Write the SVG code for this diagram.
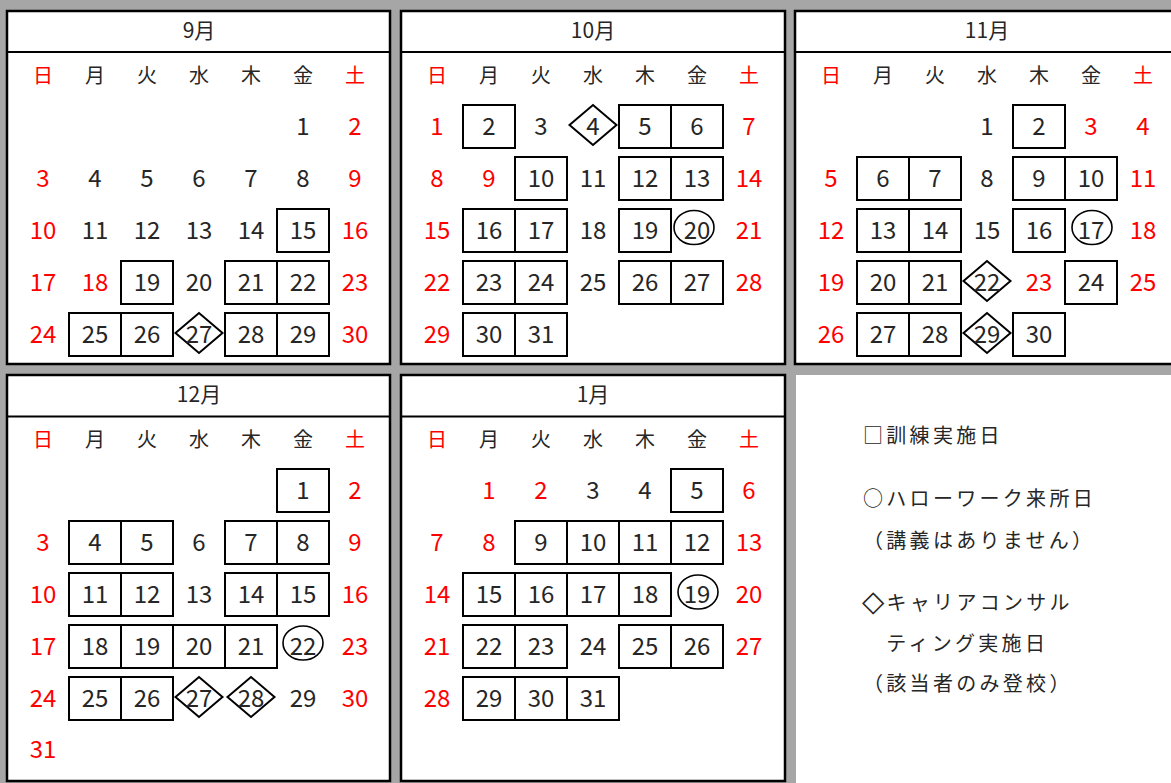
<svg xmlns="http://www.w3.org/2000/svg" width="1171" height="783" viewBox="0 0 1171 783">
<style>
.pn{fill:#fff;stroke:#000;stroke-width:2.5}
.hl{stroke:#000;stroke-width:2}
.bx{fill:none;stroke:#000;stroke-width:2}
.dm{fill:#fff;stroke:#000;stroke-width:2}
.el{fill:none;stroke:#000;stroke-width:1.6}
text{font-family:"Noto Sans CJK JP","Noto Sans",sans-serif;fill:#262626;text-anchor:middle}
.n{font-size:24px}
.w{font-size:20px}
.h{font-size:21px}
.r{fill:#ff0000}
.lg{font-size:20px;text-anchor:start;letter-spacing:3.3px}
.sym{font-family:"DejaVu Sans",sans-serif;fill:#262626;font-size:29px;letter-spacing:0}
</style>
<rect x="0" y="0" width="1171" height="783" fill="#a6a6a6"/>

<g id="sep">
<rect class="pn" x="7" y="11" width="383" height="353"/>
<line class="hl" x1="7" y1="52" x2="390" y2="52"/>
<text class="h" x="199" y="38">9月</text>
<g class="w"><text class="r" x="43" y="83">日</text><text x="95" y="83">月</text><text x="147" y="83">火</text><text x="199" y="83">水</text><text x="251" y="83">木</text><text x="303" y="83">金</text><text class="r" x="355" y="83">土</text></g>
<rect class="bx" x="277" y="209" width="52" height="43"/>
<rect class="bx" x="121" y="261" width="52" height="43"/>
<rect class="bx" x="225" y="261" width="52" height="43"/>
<rect class="bx" x="277" y="261" width="52" height="43"/>
<rect class="bx" x="69" y="313" width="52" height="43"/>
<rect class="bx" x="121" y="313" width="52" height="43"/>
<rect class="bx" x="225" y="313" width="52" height="43"/>
<rect class="bx" x="277" y="313" width="52" height="43"/>
<polygon class="dm" points="175.5,333 199,313 222.5,333 199,353"/>
<g class="n">
<text x="303" y="135">1</text><text class="r" x="355" y="135">2</text>
<text class="r" x="43" y="187">3</text><text x="95" y="187">4</text><text x="147" y="187">5</text><text x="199" y="187">6</text><text x="251" y="187">7</text><text x="303" y="187">8</text><text class="r" x="355" y="187">9</text>
<text class="r" x="43" y="239">10</text><text x="95" y="239">11</text><text x="147" y="239">12</text><text x="199" y="239">13</text><text x="251" y="239">14</text><text x="303" y="239">15</text><text class="r" x="355" y="239">16</text>
<text class="r" x="43" y="291">17</text><text class="r" x="95" y="291">18</text><text x="147" y="291">19</text><text x="199" y="291">20</text><text x="251" y="291">21</text><text x="303" y="291">22</text><text class="r" x="355" y="291">23</text>
<text class="r" x="43" y="343">24</text><text x="95" y="343">25</text><text x="147" y="343">26</text><text x="199" y="343">27</text><text x="251" y="343">28</text><text x="303" y="343">29</text><text class="r" x="355" y="343">30</text>
</g>
</g>

<g id="oct">
<rect class="pn" x="401" y="11" width="384" height="353"/>
<line class="hl" x1="401" y1="52" x2="785" y2="52"/>
<text class="h" x="593" y="38">10月</text>
<g class="w"><text class="r" x="437" y="83">日</text><text x="489" y="83">月</text><text x="541" y="83">火</text><text x="593" y="83">水</text><text x="645" y="83">木</text><text x="697" y="83">金</text><text class="r" x="749" y="83">土</text></g>
<rect class="bx" x="463" y="105" width="52" height="43"/>
<rect class="bx" x="619" y="105" width="52" height="43"/>
<rect class="bx" x="671" y="105" width="52" height="43"/>
<rect class="bx" x="515" y="157" width="52" height="43"/>
<rect class="bx" x="619" y="157" width="52" height="43"/>
<rect class="bx" x="671" y="157" width="52" height="43"/>
<rect class="bx" x="463" y="209" width="52" height="43"/>
<rect class="bx" x="515" y="209" width="52" height="43"/>
<rect class="bx" x="619" y="209" width="52" height="43"/>
<rect class="bx" x="463" y="261" width="52" height="43"/>
<rect class="bx" x="515" y="261" width="52" height="43"/>
<rect class="bx" x="619" y="261" width="52" height="43"/>
<rect class="bx" x="671" y="261" width="52" height="43"/>
<rect class="bx" x="463" y="313" width="52" height="43"/>
<rect class="bx" x="515" y="313" width="52" height="43"/>
<polygon class="dm" points="569.5,125 593,105 616.5,125 593,145"/>
<ellipse class="el" cx="694" cy="227.5" rx="20" ry="17"/>
<g class="n">
<text class="r" x="437" y="135">1</text><text x="489" y="135">2</text><text x="541" y="135">3</text><text x="593" y="135">4</text><text x="645" y="135">5</text><text x="697" y="135">6</text><text class="r" x="749" y="135">7</text>
<text class="r" x="437" y="187">8</text><text class="r" x="489" y="187">9</text><text x="541" y="187">10</text><text x="593" y="187">11</text><text x="645" y="187">12</text><text x="697" y="187">13</text><text class="r" x="749" y="187">14</text>
<text class="r" x="437" y="239">15</text><text x="489" y="239">16</text><text x="541" y="239">17</text><text x="593" y="239">18</text><text x="645" y="239">19</text><text x="697" y="239">20</text><text class="r" x="749" y="239">21</text>
<text class="r" x="437" y="291">22</text><text x="489" y="291">23</text><text x="541" y="291">24</text><text x="593" y="291">25</text><text x="645" y="291">26</text><text x="697" y="291">27</text><text class="r" x="749" y="291">28</text>
<text class="r" x="437" y="343">29</text><text x="489" y="343">30</text><text x="541" y="343">31</text>
</g>
</g>

<g id="nov">
<rect class="pn" x="795" y="11" width="400" height="353"/>
<line class="hl" x1="795" y1="52" x2="1171" y2="52"/>
<text class="h" x="987" y="38">11月</text>
<g class="w"><text class="r" x="831" y="83">日</text><text x="883" y="83">月</text><text x="935" y="83">火</text><text x="987" y="83">水</text><text x="1039" y="83">木</text><text x="1091" y="83">金</text><text class="r" x="1143" y="83">土</text></g>
<rect class="bx" x="1013" y="105" width="52" height="43"/>
<rect class="bx" x="857" y="157" width="52" height="43"/>
<rect class="bx" x="909" y="157" width="52" height="43"/>
<rect class="bx" x="1013" y="157" width="52" height="43"/>
<rect class="bx" x="1065" y="157" width="52" height="43"/>
<rect class="bx" x="857" y="209" width="52" height="43"/>
<rect class="bx" x="909" y="209" width="52" height="43"/>
<rect class="bx" x="1013" y="209" width="52" height="43"/>
<rect class="bx" x="857" y="261" width="52" height="43"/>
<rect class="bx" x="909" y="261" width="52" height="43"/>
<rect class="bx" x="1065" y="261" width="52" height="43"/>
<rect class="bx" x="857" y="313" width="52" height="43"/>
<rect class="bx" x="909" y="313" width="52" height="43"/>
<rect class="bx" x="1013" y="313" width="52" height="43"/>
<ellipse class="el" cx="1092" cy="227.5" rx="20" ry="17"/>
<polygon class="dm" points="963.5,281 987,261 1010.5,281 987,301"/>
<polygon class="dm" points="963.5,333 987,313 1010.5,333 987,353"/>
<g class="n">
<text x="987" y="135">1</text><text x="1039" y="135">2</text><text class="r" x="1091" y="135">3</text><text class="r" x="1143" y="135">4</text>
<text class="r" x="831" y="187">5</text><text x="883" y="187">6</text><text x="935" y="187">7</text><text x="987" y="187">8</text><text x="1039" y="187">9</text><text x="1091" y="187">10</text><text class="r" x="1143" y="187">11</text>
<text class="r" x="831" y="239">12</text><text x="883" y="239">13</text><text x="935" y="239">14</text><text x="987" y="239">15</text><text x="1039" y="239">16</text><text x="1091" y="239">17</text><text class="r" x="1143" y="239">18</text>
<text class="r" x="831" y="291">19</text><text x="883" y="291">20</text><text x="935" y="291">21</text><text x="987" y="291">22</text><text class="r" x="1039" y="291">23</text><text x="1091" y="291">24</text><text class="r" x="1143" y="291">25</text>
<text class="r" x="831" y="343">26</text><text x="883" y="343">27</text><text x="935" y="343">28</text><text x="987" y="343">29</text><text x="1039" y="343">30</text>
</g>
</g>

<g id="dec">
<rect class="pn" x="7" y="375" width="383" height="406"/>
<line class="hl" x1="7" y1="416.5" x2="390" y2="416.5"/>
<text class="h" x="199" y="402">12月</text>
<g class="w"><text class="r" x="43" y="447">日</text><text x="95" y="447">月</text><text x="147" y="447">火</text><text x="199" y="447">水</text><text x="251" y="447">木</text><text x="303" y="447">金</text><text class="r" x="355" y="447">土</text></g>
<rect class="bx" x="277" y="469" width="52" height="43"/>
<rect class="bx" x="69" y="521" width="52" height="43"/>
<rect class="bx" x="121" y="521" width="52" height="43"/>
<rect class="bx" x="225" y="521" width="52" height="43"/>
<rect class="bx" x="277" y="521" width="52" height="43"/>
<rect class="bx" x="69" y="573" width="52" height="43"/>
<rect class="bx" x="121" y="573" width="52" height="43"/>
<rect class="bx" x="225" y="573" width="52" height="43"/>
<rect class="bx" x="277" y="573" width="52" height="43"/>
<rect class="bx" x="69" y="625" width="52" height="43"/>
<rect class="bx" x="121" y="625" width="52" height="43"/>
<rect class="bx" x="173" y="625" width="52" height="43"/>
<rect class="bx" x="225" y="625" width="52" height="43"/>
<rect class="bx" x="69" y="677" width="52" height="43"/>
<rect class="bx" x="121" y="677" width="52" height="43"/>
<ellipse class="el" cx="303" cy="643" rx="20" ry="17"/>
<polygon class="dm" points="175.5,697 199,677 222.5,697 199,717"/>
<polygon class="dm" points="227.5,697 251,677 274.5,697 251,717"/>
<g class="n">
<text x="303" y="499">1</text><text class="r" x="355" y="499">2</text>
<text class="r" x="43" y="551">3</text><text x="95" y="551">4</text><text x="147" y="551">5</text><text x="199" y="551">6</text><text x="251" y="551">7</text><text x="303" y="551">8</text><text class="r" x="355" y="551">9</text>
<text class="r" x="43" y="603">10</text><text x="95" y="603">11</text><text x="147" y="603">12</text><text x="199" y="603">13</text><text x="251" y="603">14</text><text x="303" y="603">15</text><text class="r" x="355" y="603">16</text>
<text class="r" x="43" y="655">17</text><text x="95" y="655">18</text><text x="147" y="655">19</text><text x="199" y="655">20</text><text x="251" y="655">21</text><text x="303" y="655">22</text><text class="r" x="355" y="655">23</text>
<text class="r" x="43" y="707">24</text><text x="95" y="707">25</text><text x="147" y="707">26</text><text x="199" y="707">27</text><text x="251" y="707">28</text><text x="303" y="707">29</text><text class="r" x="355" y="707">30</text>
<text class="r" x="43" y="758">31</text>
</g>
</g>

<g id="jan">
<rect class="pn" x="401" y="375" width="384" height="406"/>
<line class="hl" x1="401" y1="416.5" x2="785" y2="416.5"/>
<text class="h" x="593" y="402">1月</text>
<g class="w"><text class="r" x="437" y="447">日</text><text x="489" y="447">月</text><text x="541" y="447">火</text><text x="593" y="447">水</text><text x="645" y="447">木</text><text x="697" y="447">金</text><text class="r" x="749" y="447">土</text></g>
<rect class="bx" x="671" y="469" width="52" height="43"/>
<rect class="bx" x="515" y="521" width="52" height="43"/>
<rect class="bx" x="567" y="521" width="52" height="43"/>
<rect class="bx" x="619" y="521" width="52" height="43"/>
<rect class="bx" x="671" y="521" width="52" height="43"/>
<rect class="bx" x="463" y="573" width="52" height="43"/>
<rect class="bx" x="515" y="573" width="52" height="43"/>
<rect class="bx" x="567" y="573" width="52" height="43"/>
<rect class="bx" x="619" y="573" width="52" height="43"/>
<rect class="bx" x="463" y="625" width="52" height="43"/>
<rect class="bx" x="515" y="625" width="52" height="43"/>
<rect class="bx" x="619" y="625" width="52" height="43"/>
<rect class="bx" x="671" y="625" width="52" height="43"/>
<rect class="bx" x="463" y="677" width="52" height="43"/>
<rect class="bx" x="515" y="677" width="52" height="43"/>
<rect class="bx" x="567" y="677" width="52" height="43"/>
<ellipse class="el" cx="698" cy="592" rx="20" ry="17"/>
<g class="n">
<text class="r" x="489" y="499">1</text><text class="r" x="541" y="499">2</text><text x="593" y="499">3</text><text x="645" y="499">4</text><text x="697" y="499">5</text><text class="r" x="749" y="499">6</text>
<text class="r" x="437" y="551">7</text><text class="r" x="489" y="551">8</text><text x="541" y="551">9</text><text x="593" y="551">10</text><text x="645" y="551">11</text><text x="697" y="551">12</text><text class="r" x="749" y="551">13</text>
<text class="r" x="437" y="603">14</text><text x="489" y="603">15</text><text x="541" y="603">16</text><text x="593" y="603">17</text><text x="645" y="603">18</text><text x="697" y="603">19</text><text class="r" x="749" y="603">20</text>
<text class="r" x="437" y="655">21</text><text x="489" y="655">22</text><text x="541" y="655">23</text><text x="593" y="655">24</text><text x="645" y="655">25</text><text x="697" y="655">26</text><text class="r" x="749" y="655">27</text>
<text class="r" x="437" y="707">28</text><text x="489" y="707">29</text><text x="541" y="707">30</text><text x="593" y="707">31</text>
</g>
</g>

<g id="legend">
<rect x="796" y="375" width="375" height="408" fill="#fff"/>
<text class="lg" x="863" y="443">□訓練実施日</text>
<text class="lg" x="863" y="505.5">○ハローワーク来所日</text>
<text class="lg" x="863" y="547.5">（講義はありません）</text>
<text class="lg" x="862" y="611"><tspan class="sym">◇</tspan><tspan x="886.5" y="609.5">キャリアコンサル</tspan></text>
<text class="lg" x="863" y="650.5">　ティング実施日</text>
<text class="lg" x="863" y="690.5">（該当者のみ登校）</text>
</g>
</svg>
